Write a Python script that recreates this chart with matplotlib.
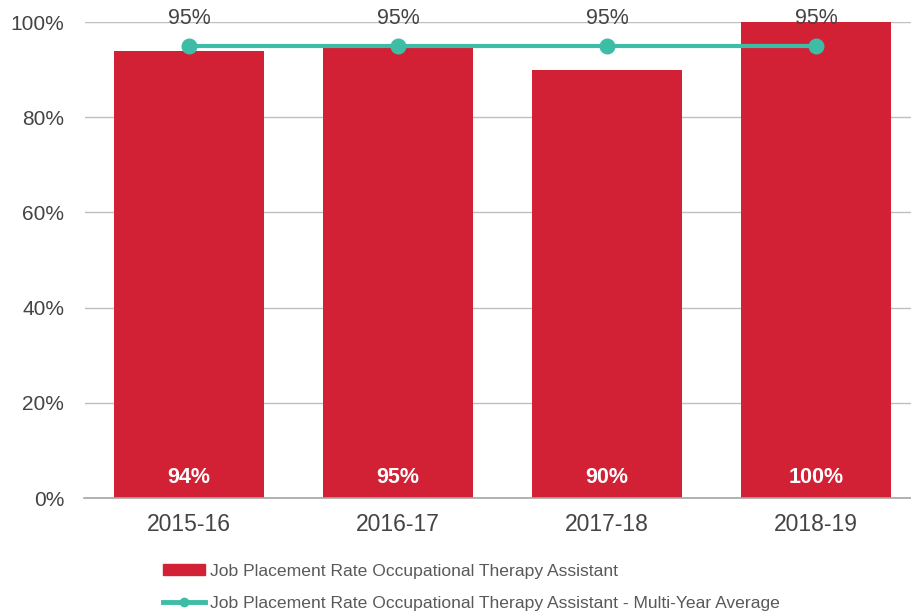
import matplotlib.pyplot as plt
from matplotlib.lines import Line2D
from matplotlib.patches import Patch
import numpy as np

plt.rcParams['font.family'] = ['Liberation Sans', 'DejaVu Sans']

years = ["2015-16", "2016-17", "2017-18", "2018-19"]
placement = [94, 95, 90, 100]
average = [95, 95, 95, 95]

bar_label = "Job Placement Rate Occupational Therapy Assistant"
avg_label = "Job Placement Rate Occupational Therapy Assistant - Multi-Year Average"

bar_color = "#D22035"
line_color = "#3DBDA6"
text_color = "#444444"
legend_color = "#595959"

fig = plt.figure(figsize=(9.11, 6.13), dpi=100)
ax = fig.add_axes([84.5 / 911, 115 / 613, 836 / 911, 476 / 613])

x = np.arange(len(years))
ax.bar(x, placement, width=0.72, color=bar_color, zorder=2)
ax.plot(x, average, color=line_color, lw=3, marker="o", ms=10.5, zorder=3)

for i, v in enumerate(placement):
    ax.text(i, 4.4, f"{v}%", ha="center", va="center", color="white",
            fontsize=15.5, fontweight="bold", zorder=4)
for i, v in enumerate(average):
    ax.text(i, v + 5.8, f"{v}%", ha="center", va="center", color=text_color,
            fontsize=15.5, zorder=4)

ax.set_xlim(-0.5, 3.5)
ax.set_ylim(0, 100)
ax.set_yticks(range(0, 101, 20))
ax.set_yticklabels([f"{t}%" for t in range(0, 101, 20)])
ax.set_xticks(x)
ax.set_xticklabels(years)
ax.tick_params(axis="both", length=0, colors=text_color)
ax.tick_params(axis="x", pad=11, labelsize=16.5)
ax.tick_params(axis="y", pad=14.5, labelsize=15)
ax.yaxis.grid(True, color="#BFBFBF", lw=1, zorder=0)
for s in ["left", "right", "top"]:
    ax.spines[s].set_visible(False)
ax.spines["bottom"].set_color("#A6A6A6")
ax.spines["bottom"].set_linewidth(1.2)

handles = [Patch(color=bar_color),
           Line2D([], [], color=line_color, lw=3.5, marker="o", ms=6)]
fig.legend(handles, [bar_label, avg_label], loc="upper left",
           bbox_to_anchor=(156 / 911, 1 - 557 / 613),
           frameon=False, fontsize=12.6, labelcolor=legend_color,
           handlelength=2.4, handleheight=0.6, handletextpad=0.3,
           labelspacing=0.95, borderaxespad=0)

fig.savefig("out.png", dpi=100)
